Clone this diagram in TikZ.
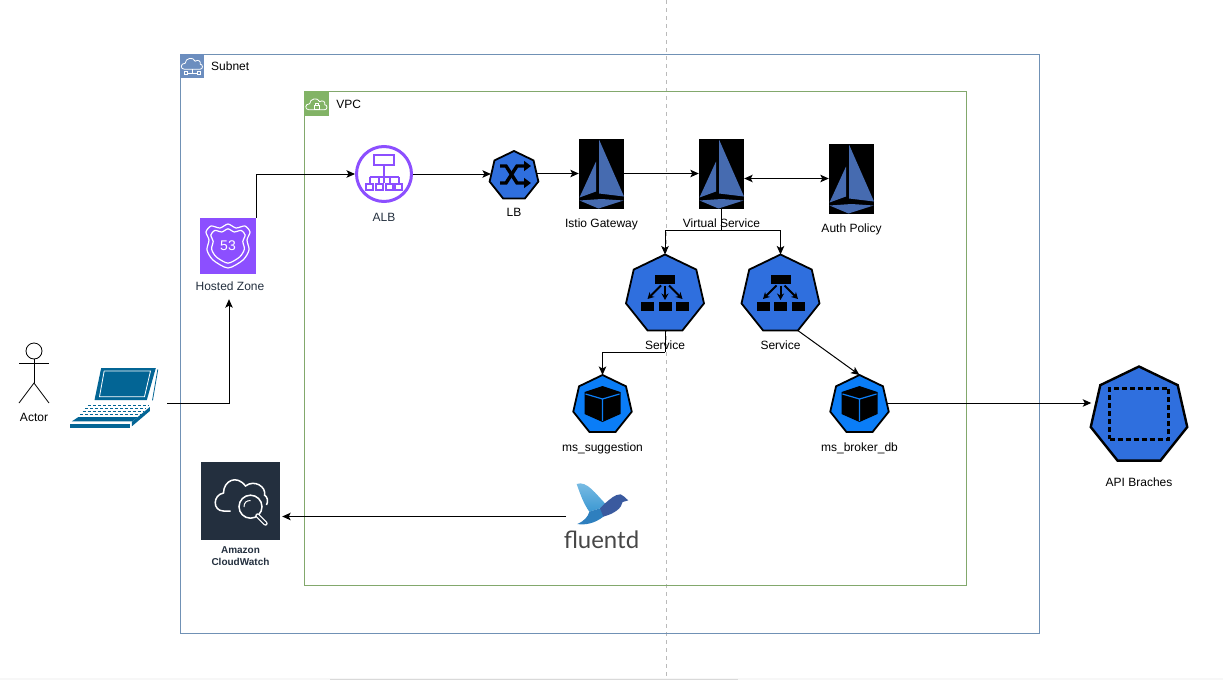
\documentclass[tikz,border=0pt]{standalone}
\usepackage{fontspec}
\setmainfont{Liberation Sans}
\newfontfamily\fluentfont{Lato}
\usetikzlibrary{arrows.meta,shapes.geometric}

\definecolor{subnetblue}{HTML}{7091B5}
\definecolor{subnetfill}{HTML}{6C8EBF}
\definecolor{vpcgreen}{HTML}{82A86C}
\definecolor{vpcfill}{HTML}{82B366}
\definecolor{awspurple}{HTML}{8C4FFF}
\definecolor{awsdark}{HTML}{232F3E}
\definecolor{kubeblue}{HTML}{2F6FDE}
\definecolor{podblue}{HTML}{0A7DF7}
\definecolor{istioblue}{HTML}{466BB0}
\definecolor{laptopblue}{HTML}{036595}
\definecolor{birdlight}{HTML}{7FBFE5}
\definecolor{birdsky}{HTML}{3C98D2}
\definecolor{birdmid}{HTML}{2E7FBE}
\definecolor{birddark}{HTML}{3A5A9F}

\tikzset{
	lbl/.style={text height=11pt, text depth=2pt, inner sep=0pt},
	conn/.style={line width=1pt},
	istiobox/.style={fill=black, minimum width=45pt, minimum height=70pt, inner sep=0pt},
	kube/.style={regular polygon, regular polygon sides=7, draw=black, fill=kubeblue, line width=1.8pt, inner sep=0pt, outer sep=0pt},
	kubesvc/.style={kube, minimum size=80pt},
	kubepod/.style={kube, fill=podblue, minimum size=60pt},
	iconbox/.style={minimum size=24pt, inner sep=0pt, anchor=north west},
	emptybox/.style={inner sep=0pt, outer sep=0pt}
}

\newcommand{\istiosail}[1]{
	\begin{scope}[shift={(#1)}]
		\fill[istioblue] (-2.5,-34) -- (22.5,23) -- (-2.5,20) -- cycle;
		\fill[istioblue] (-5.5,-12) -- (-5.5,18) -- (-22,24) -- cycle;
		\fill[istioblue] (-22,27) -- (0,25.5) -- (22,27) -- (-3,35) -- cycle;
	\end{scope}
}
\newcommand{\svcglyph}[1]{
	\begin{scope}[shift={(#1)}]
		\fill (-10,-20) rectangle (10,-11);
		\foreach \bx in {-24,-6.5,11}
			\fill (\bx,7) rectangle (\bx+13,16);
		\draw[line width=2pt, -{Stealth[length=6.5pt,width=7pt]}] (0,-9) -- (0,5.5);
		\draw[line width=2pt, -{Stealth[length=6.5pt,width=7pt]}] (-4,-9) -- (-17.5,4.5);
		\draw[line width=2pt, -{Stealth[length=6.5pt,width=7pt]}] (4,-9) -- (17.5,4.5);
	\end{scope}
}
\newcommand{\cubeglyph}[1]{
	\begin{scope}[shift={(#1)}]
		\fill (0,-19) -- (18,-13) -- (18,9) -- (0,17) -- (-18,9) -- (-18,-13) -- cycle;
		\draw[podblue, line width=1.2pt] (-17,-11) -- (0,-6) -- (17,-11) (0,-6) -- (0,16);
	\end{scope}
}
\newcommand{\cloudglyph}[2]{
	\begin{scope}[shift={(#1)}]
		\draw[white, line width=.8pt] (-8,#2) .. controls (-12,#2) and (-12,#2-6) .. (-7,#2-6) .. controls (-7,#2-11) and (1,#2-13) .. (3,#2-8) .. controls (6,#2-10) and (9,#2-8) .. (8,#2-5) .. controls (11,#2-5) and (11,#2) .. (8,#2) -- cycle;
	\end{scope}
}

\begin{document}
\begin{tikzpicture}[x=1pt, y=-1pt, >={Stealth[length=8.5pt,width=7.5pt,inset=2pt]}, every node/.style={font=\fontsize{12}{14}\selectfont}]
	\useasboundingbox (0,0) rectangle (1223,680);
	
	\fill[black!3] (0,678) rectangle (1223,680);
	\draw[black!15] (330,679) -- (738,679);
	
	\coordinate(DT) at (666,0);
	\coordinate(DB) at (666,676);
	\draw[dashed, color=black!27, dash pattern=on 4pt off 4pt] (DT) -- (DB);
	
	\node[draw=subnetblue, line width=1.1pt, minimum width=859pt, minimum height=579pt, anchor=north west, inner sep=0pt](SUB) at (180,54){};
	\node[iconbox, fill=subnetfill](SUBI) at (SUB.north west){};
	\node[lbl, right of=SUBI, node distance=38pt](SUBL){Subnet};
	\cloudglyph{SUBI}{3}
	\begin{scope}[shift={(SUBI)}]
		\draw[white, line width=.8pt] (0,3) -- (0,7) (-5,7) -- (5,7);
		\draw[white, line width=.8pt] (-8,5.5) rectangle (-5,8.5) (5,5.5) rectangle (8,8.5);
	\end{scope}
	
	\node[draw=vpcgreen, line width=1.1pt, minimum width=662pt, minimum height=494pt, anchor=north west, inner sep=0pt](VPC) at (304,91){};
	\node[iconbox, fill=vpcfill, minimum size=25pt](VPCI) at (VPC.north west){};
	\node[lbl, right of=VPCI, node distance=32pt](VPCL){VPC};
	\cloudglyph{VPCI}{6}
	\begin{scope}[shift={(VPCI)}]
		\draw[white, line width=.7pt] (-2.5,2) rectangle (2.5,5.5);
		\draw[white, line width=.7pt] (-1.5,2) -- (-1.5,0) -- (1.5,0) -- (1.5,2);
	\end{scope}
	
	\node[circle, draw=awspurple, line width=3pt, minimum size=55pt, inner sep=0pt, outer sep=1.5pt](ALB) at (384,174){};
	\node[lbl, text=awsdark, below of=ALB, node distance=43pt](ALBL){ALB};
	\begin{scope}[shift={(ALB)}, draw=awspurple, line width=2pt]
		\draw (-10.5,-19) rectangle (10,-9);
		\draw (0,-9) -- (0,9) (-14.5,3) -- (14.5,3);
		\draw (-14.5,3) -- (-14.5,9) (-5,3) -- (-5,9) (5.5,3) -- (5.5,9) (14.5,3) -- (14.5,9);
		\foreach \bx in {-14.5,-5,5.5,14.5}
			\draw (\bx-3.5,9.5) rectangle (\bx+3.5,16);
	\end{scope}
	
	\node[fill=awspurple, minimum size=56pt, inner sep=0pt](HZ) at (228,246){};
	\node[lbl, text=awsdark, below of=HZ, node distance=40pt, xshift=2pt](HZL){Hosted Zone};
	\begin{scope}[shift={(HZ)}, white]
		\draw[line width=1.2pt] plot[smooth cycle, tension=.45] coordinates {(0,-22) (-8,-18) (-17,-20) (-22,-14) (-19,-6) (-21,4) (-15,14) (0,22) (15,14) (21,4) (19,-6) (22,-14) (17,-20) (8,-18)};
		\draw[line width=1.2pt, scale=.78] plot[smooth cycle, tension=.45] coordinates {(0,-22) (-8,-18) (-17,-20) (-22,-14) (-19,-6) (-21,4) (-15,14) (0,22) (15,14) (21,4) (19,-6) (22,-14) (17,-20) (8,-18)};
	\end{scope}
	\node[text=white, font=\fontsize{14}{16}\selectfont, inner sep=0pt](HZN) at (HZ){53};
	
	\node[kube, minimum size=50pt, right of=ALB, node distance=130pt, yshift=-2pt](LB){};
	\node[lbl, below of=LB, node distance=36pt](LBL){LB};
	\begin{scope}[shift={(LB)}, line width=3.4pt]
		\draw[-{Triangle[length=7pt,width=10pt]}] (-14,-10) -- (-8,-10) -- (3,7) -- (17,7);
		\draw[-{Triangle[length=7pt,width=10pt]}] (-14,7) -- (-8,7) -- (3,-10) -- (17,-10);
	\end{scope}
	
	\node[istiobox](IG) at (601.5,173.5){};
	\node[lbl, below of=IG, node distance=49pt](IGL){Istio Gateway};
	\istiosail{IG}
	\node[istiobox, right of=IG, node distance=120pt](VS){};
	\node[lbl, below of=VS, node distance=49pt](VSL){Virtual Service};
	\istiosail{VS}
	\node[istiobox, right of=VS, node distance=130pt, yshift=-5pt](AP){};
	\node[lbl, below of=AP, node distance=49pt](APL){Auth Policy};
	\istiosail{AP}
	
	\node[kubesvc, below of=VS, node distance=121pt, xshift=-56.5pt](SV1){};
	\node[lbl, below of=SV1, node distance=50.5pt](SV1L){Service};
	\svcglyph{SV1}
	\node[kubesvc, right of=SV1, node distance=115.5pt](SV2){};
	\node[lbl, below of=SV2, node distance=50.5pt](SV2L){Service};
	\svcglyph{SV2}
	
	\node[kubepod, below of=SV1, node distance=110.5pt, xshift=-62.5pt](MS1){};
	\node[lbl, below of=MS1, node distance=42pt](MS1L){ms\_suggestion};
	\cubeglyph{MS1}
	\node[kubepod, right of=MS1, node distance=257pt](MS2){};
	\node[lbl, below of=MS2, node distance=42pt](MS2L){ms\_broker\_db};
	\cubeglyph{MS2}
	
	\node[kube, line width=2.4pt, minimum size=99pt](API) at (1139,416){};
	\node[draw=black, line width=3pt, dash pattern=on 5pt off 3pt, minimum width=59pt, minimum height=51pt, inner sep=0pt, above of=API, node distance=2.5pt](APII){};
	\node[lbl, below of=API, node distance=66pt](APIL){API Braches};
	
	\node[fill=awsdark, minimum width=79pt, minimum height=78pt, inner sep=0pt](CW) at (240.5,501){};
	\node[lbl, text=awsdark, font=\fontsize{10}{12}\selectfont\bfseries, align=center, text height=, text depth=, below of=CW, node distance=55pt](CWL){Amazon\\CloudWatch};
	\begin{scope}[shift={(CW)}, white]
		\draw[line width=1.5pt] (-10,10) -- (-17,10) .. controls (-28,10) and (-28,-6) .. (-17,-8) .. controls (-17,-20) and (-4,-27) .. (5,-15) .. controls (14,-22) and (26,-14) .. (24,-6) .. controls (27,-4) and (28,0) .. (26,4);
		\fill[awsdark] (10,5.7) circle (14);
		\draw[line width=1.5pt] (10,5.7) circle (11.5);
		\draw[line width=1pt] (3.5,6) .. controls (3.5,1.5) and (6,-.5) .. (10,-.5);
		\draw[line width=4.4pt, line cap=round] (17,14.5) -- (25,22.5);
		\draw[awsdark, line width=1.8pt, line cap=round] (17,14.5) -- (25,22.5);
	\end{scope}
	
	\node[emptybox, minimum width=74pt, minimum height=72pt](FLU) at (603,516.5){};
	\node[lbl, text=black!72, font=\fontsize{24}{28}\fluentfont, text height=, text depth=, below of=FLU, node distance=23.5pt, xshift=-1.5pt](FLUL){fluentd};
	\begin{scope}[shift={(FLU)}, x=.3333pt, y=-.3333pt, shift={(-159,-529.5)}]
		\shade[top color=birdlight, bottom color=birdsky] (80,432) .. controls (110,420) and (140,465) .. (165,490) -- (150,505) -- (118,515) .. controls (100,490) and (90,460) .. (80,432) -- cycle;
		\fill[birdmid] (118,515) -- (150,505) -- (165,490) -- (180,515) -- (160,530) .. controls (135,550) and (105,556) .. (82,552) .. controls (100,545) and (115,530) .. (118,515) -- cycle;
		\fill[birddark] (165,490) .. controls (180,478) and (195,462) .. (212,463) .. controls (222,465) and (225,475) .. (235,481) -- (218,486) .. controls (214,505) and (195,520) .. (160,530) -- (150,505) -- cycle;
	\end{scope}
	
	\node[emptybox, minimum width=97pt, minimum height=60pt](LAP) at (118.5,403){};
	\begin{scope}[shift={(LAP)}, x=.3333pt, y=-.3333pt, shift={(-160,-123)}, laptopblue]
		\fill (108,18) -- (272,18) -- (245,114) -- (88,114) -- cycle;
		\draw[white, line width=.8pt] (117,27) -- (256,27) -- (238,104) -- (103,104) -- cycle;
		\draw[line width=.8pt] (278,22) -- (262,115);
		\foreach \ry/\rx in {130/68,139/60,148/52,157/44}
			\draw[line width=.6pt, dash pattern=on 3pt off 2pt] (\rx,\ry) -- (\rx+182,\ry);
		\fill (40,165) -- (218,165) -- (202,178) -- (20,178) -- cycle;
		\fill (15,185) rectangle (195,197);
		\fill (200,180) -- (254,135) -- (254,147) -- (200,193) -- cycle;
	\end{scope}
	
	\node[circle, draw=black, line width=.8pt, minimum size=16pt, inner sep=0pt](AH) at (34,351){};
	\coordinate[below of=AH, node distance=32pt](AW);
	\coordinate[left of=AW, node distance=15pt](AF1);
	\coordinate[right of=AW, node distance=15pt](AF2);
	\coordinate[below of=AH, node distance=12pt](AA);
	\coordinate[left of=AA, node distance=15pt](AL);
	\coordinate[right of=AA, node distance=15pt](AR);
	\coordinate[below of=AF1, node distance=20pt](AF1b);
	\coordinate[below of=AF2, node distance=20pt](AF2b);
	\draw[line width=.8pt] (AH.south) -- (AW);
	\draw[line width=.8pt] (AL) -- (AR);
	\draw[line width=.8pt] (AF1b) -- (AW) -- (AF2b);
	\node[lbl, below of=AH, node distance=66pt](AL2){Actor};
	
	\draw[->, conn] (LAP.east) -| ([xshift=-1pt, yshift=-6.5pt]HZL.south);
	\draw[->, conn] (HZ.north east) |- (ALB.west);
	\draw[->, conn] (ALB.east) -- (ALB.east -| LB.west);
	\draw[->, conn] (LB.east |- IG.west) -- (IG.west);
	\draw[->, conn] (IG.east) -- (VS.west);
	\draw[<->, conn] (VS.east |- AP.west) -- (AP.west);
	
	\coordinate[below of=VS, node distance=56.5pt](VSb);
	\draw[conn] (VS.south) -- (VSb);
	\draw[->, conn] (VSb) -| (SV1.north);
	\draw[->, conn] (VSb) -| (SV2.north);
	
	\coordinate[below of=SV1, node distance=57.5pt](SV1b);
	\draw[conn] (SV1.south) -- (SV1b);
	\draw[->, conn] (SV1b) -| (MS1.north);
	\draw[->, conn] (SV2.corner 5) -- (MS2.north);
	\draw[->, conn] ([yshift=2pt]MS2.east) -- ([yshift=2pt, xshift=-2pt]MS2.east -| API.west);
	\draw[->, conn] (FLU.west) -- ([xshift=2pt]FLU.west -| CW.east);
\end{tikzpicture}
\end{document}
